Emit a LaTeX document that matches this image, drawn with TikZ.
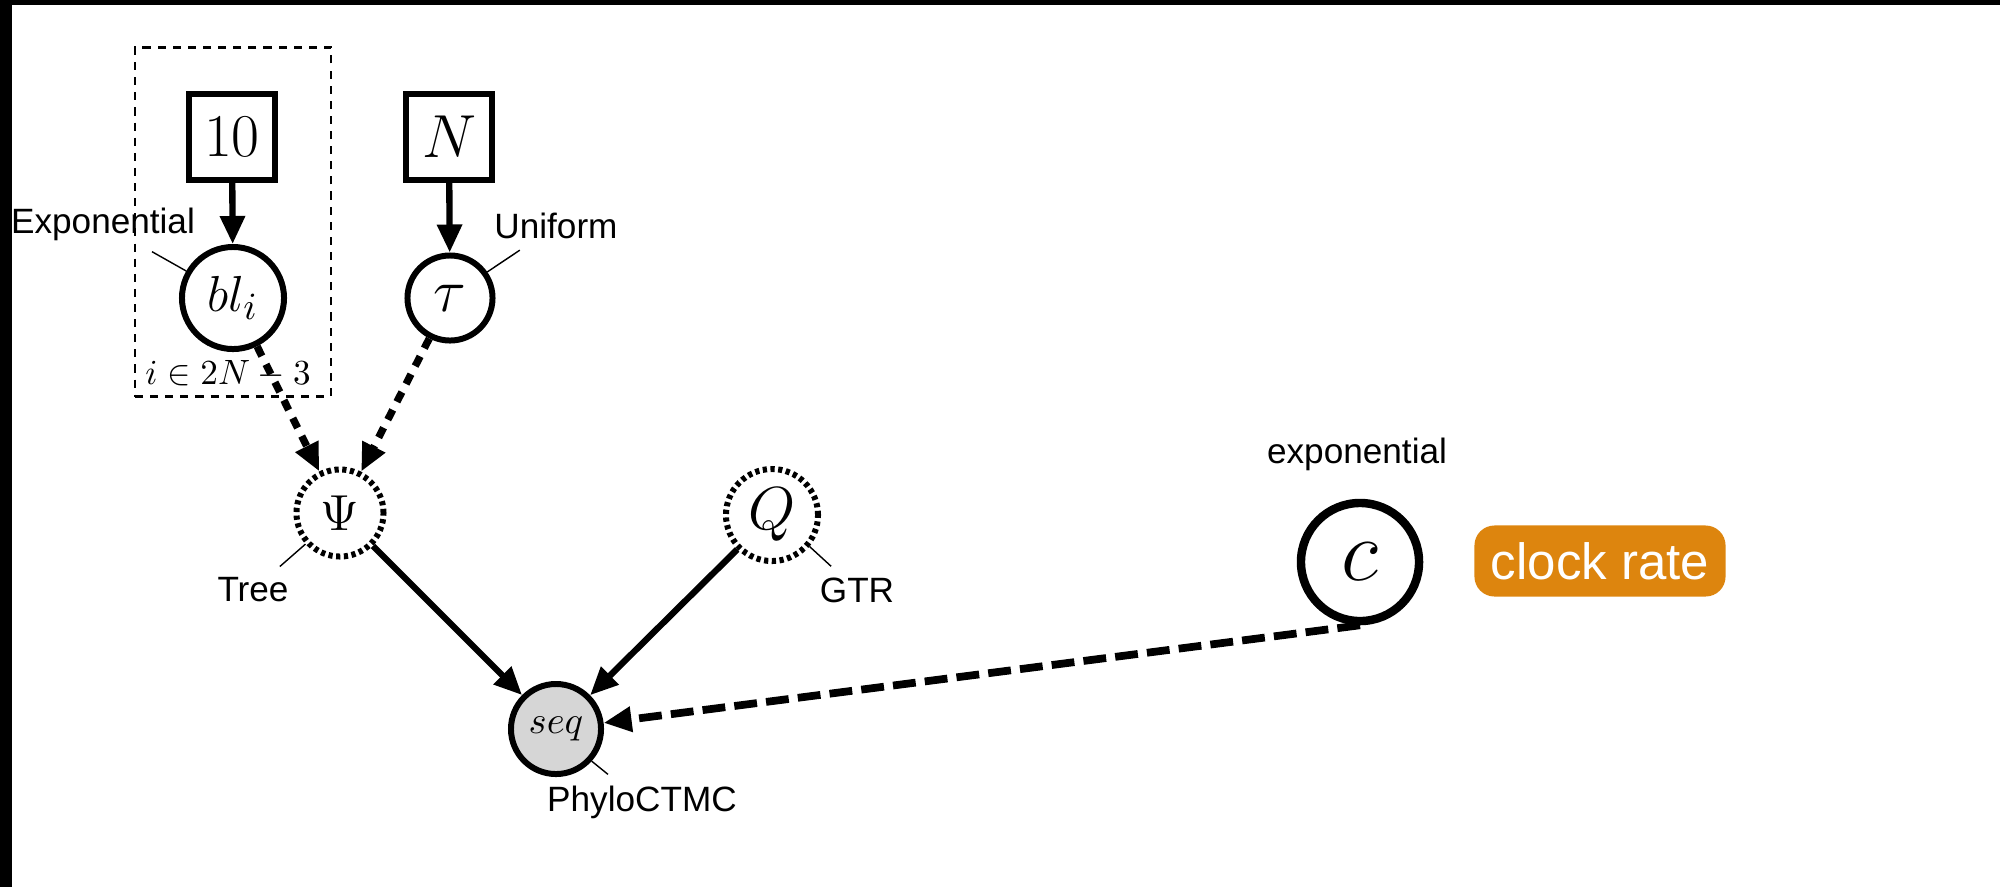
\documentclass[tikz,border=0pt]{standalone}
\usepackage{fontspec}
\setsansfont{Liberation Sans}
\usetikzlibrary{arrows.meta}

\definecolor{clockorange}{RGB}{221,133,14}
\definecolor{seqgray}{RGB}{214,214,214}

\tikzset{
    const/.style={draw, rectangle, line width=1.7pt, minimum width=0.86cm, minimum height=0.86cm, inner sep=0pt, font=\fontsize{16.5}{19}\selectfont},
    stoch/.style={draw, circle, line width=1.7pt, inner sep=0pt},
    deter/.style={stoch, dash pattern=on 1.2pt off 1pt},
    obs/.style={stoch, fill=seqgray},
    plate/.style={draw, rectangle, line width=0.7pt, dash pattern=on 2.3pt off 2pt, inner sep=0pt},
    distlbl/.style={font=\fontsize{10}{12}\sffamily, inner sep=3pt},
    pinline/.style={line width=0.4pt},
    solidarrow/.style={-{Triangle[length=0.28cm, width=0.24cm]}, line width=1.8pt},
    dasharrow/.style={solidarrow, line width=2.1pt, dash pattern=on 3.1pt off 2.6pt},
    longdasharrow/.style={solidarrow, line width=2.2pt, dash pattern=on 6.5pt off 2.6pt},
    ratebox/.style={fill=clockorange, rounded corners=0.2cm, text=white, font=\fontsize{14.5}{17}\sffamily, minimum width=2.51cm, minimum height=0.71cm}
}

\begin{document}
\begin{tikzpicture}[x=0.01cm, y=-0.01cm]
        \useasboundingbox (0,0) rectangle (2000,887);
        \fill[black] (0,0) rectangle (2000,5);
        \fill[black] (0,0) rectangle (12,887);

        \node[plate, minimum width=1.96cm, minimum height=3.49cm] (plate) at (233,222) {};
        \node[font=\fontsize{10.2}{12}\selectfont] (plateLbl) at (228,374) {$i \in 2N - 3$};

        \node[const] (ten) at (232,137) {$10$};
        \node[const] (numTaxa) at (449,137) {$N$};
        \node[stoch, minimum size=1.02cm, font=\fontsize{15}{18}\selectfont] (bl) at (233,298) {$bl_i$};
        \node[stoch, minimum size=0.85cm, font=\fontsize{18}{21}\selectfont] (tau) at (450,298) {$\tau$};
        \node[deter, minimum size=0.87cm, font=\fontsize{14.5}{17}\selectfont] (psi) at (340,513) {$\Psi$};
        \node[deter, minimum size=0.92cm, font=\fontsize{16}{19}\selectfont] (Q) at (772,515) {$Q$};
        \node[obs, minimum size=0.9cm, font=\fontsize{11}{13}\selectfont] (seq) at (556,729) {$seq$};
        \node[stoch, line width=2.4pt, minimum size=1.18cm, font=\fontsize{25}{29}\selectfont] (clock) at (1360,562) {$c$};
        \node[ratebox] (clockTag) at (1600,561) {clock rate};

        \node[distlbl] (blDist) at (103,224) {Exponential};
        \node[distlbl] (tauDist) at (556,226) {Uniform};
        \node[distlbl] (psiDist) at (253,590) {Tree};
        \node[distlbl] (qDist) at (857,590) {GTR};
        \node[distlbl] (seqDist) at (642,802) {PhyloCTMC};
        \node[distlbl] (clockDist) at (1357,454) {exponential};

        \draw[pinline] (bl.150) -- (blDist);
        \draw[pinline] (tau.35) -- (tauDist);
        \draw[pinline] (psi.222) -- (psiDist);
        \draw[pinline] (Q.-40) -- (qDist);
        \draw[pinline] (seq.-42) -- (seqDist);

        \draw[solidarrow] (ten) -- (bl);
        \draw[solidarrow] (numTaxa) -- (tau);
        \draw[dasharrow] (bl) -- (psi);
        \draw[dasharrow] (tau) -- (psi);
        \draw[solidarrow] (psi) -- (seq);
        \draw[solidarrow] (Q) -- (seq);
        \draw[longdasharrow] (clock.south) -- (seq);

    \end{tikzpicture}
\end{document}
